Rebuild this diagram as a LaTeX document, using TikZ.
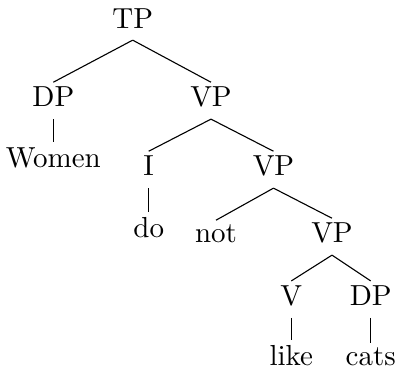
\documentclass[tikz,border=0pt]{standalone}
\begin{document}
\begin{tikzpicture}[x=0.3623pt,y=-0.3623pt,
  lab/.style={anchor=base,inner sep=1.6pt,text depth=2.6pt,font=\fontsize{10.5}{12.5}\selectfont},
  branch/.style={line width=0.4pt}]
\useasboundingbox (0,0) rectangle (397,368);
% nodes, placed at their baselines
\node[lab] (tp)    at (132.7,28)  {TP};
\node[lab] (dp)    at (53.3,107)  {DP};
\node[lab] (vpa)   at (211,107)   {VP};
\node[lab] (women) at (53.3,167)  {Women};
\node[lab] (i)     at (148.7,176) {I};
\node[lab] (vpb)   at (273.5,176) {VP};
\node[lab] (do)    at (148.7,237) {do};
\node[lab] (not)   at (216,243)   {not};
\node[lab] (vpc)   at (332,243)   {VP};
\node[lab] (v)     at (291.3,305.7) {V};
\node[lab] (dpb)   at (370.7,305.7) {DP};
\node[lab] (like)  at (291.3,365.5) {like};
\node[lab] (cats)  at (370.7,365.5) {cats};
% branches
\draw[branch] (tp.south) -- (dp.north);
\draw[branch] (tp.south) -- (vpa.north);
\draw[branch] (dp.south) -- (women.north);
\draw[branch] (vpa.south) -- (i.north);
\draw[branch] (vpa.south) -- (vpb.north);
\draw[branch] (i.south) -- (do.north);
\draw[branch] (vpb.south) -- (not.north);
\draw[branch] (vpb.south) -- (vpc.north);
\draw[branch] (vpc.south) -- (v.north);
\draw[branch] (vpc.south) -- (dpb.north);
\draw[branch] (v.south) -- (like.north);
\draw[branch] (dpb.south) -- (cats.north);
\end{tikzpicture}
\end{document}
